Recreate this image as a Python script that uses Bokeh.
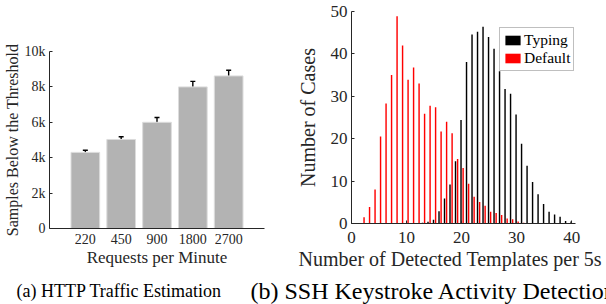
from bokeh.plotting import figure
from bokeh.models import (ColumnDataSource, Whisker, TeeHead, FixedTicker, Legend,
                          LegendItem, Label, Range1d, Title)
from bokeh.layouts import column, row
from bokeh.embed import file_html
from bokeh.resources import INLINE

# ---------------- data: panel (a) ----------------
rates = ["220", "450", "900", "1800", "2700"]
samples = [4300, 5030, 6000, 8000, 8620]
samples_err = [120, 150, 270, 310, 320]
y_ticks_a = [0, 2000, 4000, 6000, 8000, 10000]
y_tick_labels_a = ["0", "2k", "4k", "6k", "8k", "10k"]

# ---------------- data: panel (b) ----------------
templates = list(range(0, 41))
typing = [0.2, 0, 0, 0, 0, 0, 0, 0, 0, 0,
          0, 0, 0.1, 0.2, 0.4, 0.9, 2.9, 5.9, 9.2, 14.7,
          24.4, 38.1, 44.6, 45.2, 46.4, 44.0, 41.2, 35.9, 31.7, 30.6,
          25.7, 18.8, 13.6, 9.8, 6.9, 4.6, 2.8, 2.1, 1.6, 0.6,
          0.5]
default = [0, 0, 1.5, 3.9, 8.0, 20.5, 28.3, 35.0, 48.9, 42.0,
           33.9, 36.8, 33.0, 25.9, 27.8, 27.4, 21.7, 24.0, 21.3, 15.2,
           13.1, 9.4, 6.3, 5.1, 4.2, 2.8, 2.5, 2.0, 1.2, 1.0,
           0.5, 0.2, 0.1, 0, 0, 0, 0, 0, 0, 0,
           0]
x_ticks_b = [0, 10, 20, 30, 40]
y_ticks_b = [0, 10, 20, 30, 40, 50]
series_names = ["Typing", "Default"]
captions = ["(a) HTTP Traffic Estimation", "(b) SSH Keystroke Activity Detection"]

FONT = "Liberation Serif"
TXT = "#262626"


def style(p, tick_fs, label_fs):
    for ax in p.axis:
        ax.axis_line_color = TXT
        ax.axis_line_width = 1
        ax.major_tick_in = 3
        ax.major_tick_out = 0
        ax.major_tick_line_color = TXT
        ax.minor_tick_line_color = None
        ax.major_label_text_font = FONT
        ax.major_label_text_font_size = tick_fs
        ax.major_label_text_color = TXT
        ax.axis_label_text_font = FONT
        ax.axis_label_text_font_size = label_fs
        ax.axis_label_text_font_style = "normal"
        ax.axis_label_text_color = TXT
    p.xgrid.visible = False
    p.ygrid.visible = False
    p.outline_line_color = None
    p.background_fill_color = "white"
    p.border_fill_color = "white"
    p.frame_align = False


# ---------------- panel (a) ----------------
xa = [i + 1 for i in range(len(rates))]
src_a = ColumnDataSource(dict(
    x=xa, top=samples,
    upper=[s + e for s, e in zip(samples, samples_err)],
    lower=[s - e for s, e in zip(samples, samples_err)],
))
p1 = figure(width=288, height=278, x_range=Range1d(0, len(rates) + 1),
            y_range=Range1d(0, 10000), toolbar_location=None, output_backend="svg",
            min_border_left=49, min_border_right=24, min_border_top=51, min_border_bottom=50)
p1.vbar(x="x", top="top", width=0.8, source=src_a, fill_color="#b3b3b3",
        line_color="#dcdcdc", line_width=1)
whisk = Whisker(source=src_a, base="x", upper="upper", lower="lower",
                line_color="black", line_width=1.4,
                upper_head=TeeHead(size=5, line_color="black", line_width=1.4),
                lower_head=TeeHead(size=5, line_color="black", line_width=1.4))
p1.add_layout(whisk)
p1.xaxis.ticker = FixedTicker(ticks=xa)
p1.xaxis.major_label_overrides = {x: r for x, r in zip(xa, rates)}
p1.yaxis.ticker = FixedTicker(ticks=y_ticks_a)
p1.yaxis.major_label_overrides = {t: l for t, l in zip(y_ticks_a, y_tick_labels_a)}
p1.xaxis.axis_label = "Requests per Minute"
p1.yaxis.axis_label = "Samples Below the Threshold"
style(p1, "14px", "16px")
p1.xaxis.axis_label_text_font_size = "17px"
p1.xaxis.major_tick_in = 0
p1.xaxis.major_label_standoff = 5
p1.yaxis.major_label_standoff = 4
p1.xaxis.axis_label_standoff = 1
p1.yaxis.axis_label_standoff = 1

# ---------------- panel (b) ----------------
src_b = ColumnDataSource(dict(
    xt=[t - 0.1 for t in templates], typing=typing,
    xd=[t + 0.28 for t in templates], default=default,
))
p2 = figure(width=318, height=278, x_range=Range1d(0, 40.7), y_range=Range1d(0, 50),
            toolbar_location=None, output_backend="svg",
            min_border_left=63, min_border_right=31, min_border_top=11, min_border_bottom=55)
r_t = p2.vbar(x="xt", top="typing", width=0.26, source=src_b, fill_color="black",
              line_color=None)
r_d = p2.vbar(x="xd", top="default", width=0.26, source=src_b, fill_color="red",
              line_color=None)
p2.xaxis.ticker = FixedTicker(ticks=x_ticks_b)
p2.yaxis.ticker = FixedTicker(ticks=y_ticks_b)
p2.yaxis.axis_label = "Number of Cases"
style(p2, "17px", "20px")
p2.xaxis.major_label_standoff = 8
p2.yaxis.major_label_standoff = 4
p2.yaxis.axis_label_standoff = 9
p2.add_layout(Title(text="Number of Detected Templates per 5s", align="left", offset=-53,
                    standoff=0, text_font=FONT, text_font_size="20px",
                    text_font_style="normal", text_color=TXT), "below")

legend = Legend(items=[LegendItem(label=series_names[0], renderers=[r_t]),
                       LegendItem(label=series_names[1], renderers=[r_d])],
                location=(148, 152), label_text_font=FONT, label_text_font_size="15.5px",
                label_text_color="black", glyph_width=19, glyph_height=12,
                label_height=12, spacing=0, padding=3, margin=0, label_standoff=2,
                border_line_color="#808080", border_line_width=1.5,
                background_fill_alpha=1.0)
p2.add_layout(legend)

# ---------------- captions ----------------
cap = figure(width=606, height=26, x_range=Range1d(0, 606), y_range=Range1d(0, 26),
             toolbar_location=None, output_backend="svg", min_border=0,
             x_axis_location=None, y_axis_location=None)
cap.xgrid.visible = False
cap.ygrid.visible = False
cap.outline_line_color = None
for xpos, txt, fs in zip([16, 250], captions, ["18px", "24px"]):
    cap.add_layout(Label(x=xpos, y=14, x_units="screen", y_units="screen", text=txt,
                         text_font=FONT, text_font_size=fs, text_color="black",
                         text_baseline="middle"))

layout = column(row(p1, p2), cap)
open("out.html", "w").write(file_html(layout, INLINE))
